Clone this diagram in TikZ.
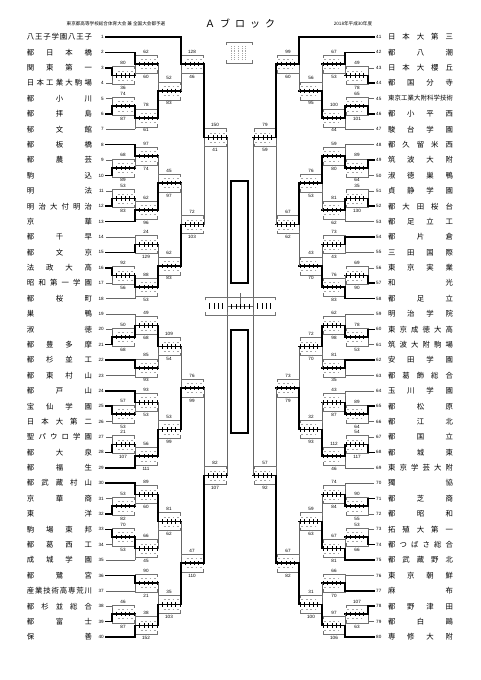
\documentclass[tikz,border=0pt]{standalone}
\usepackage{fontspec}
\setmainfont{Liberation Sans}
\newfontfamily\jp{Noto Sans CJK JP}
\makeatletter
\newcommand\tY[1]{\fpeval{37+(\ifnum#1>40 #1-41\else #1-1\fi)*600/39}}
\newcommand\my[1]{\csname my@#1\endcsname}
\newcommand\spr[1]{\spr@a#1\spr@end}
\def\spr@a#1#2\spr@end{#1\if\relax\detokenize{#2}\relax\else\hfill\spr@a#2\spr@end\fi}
\makeatother
\tikzset{
  ww/.style={line width=1.6pt,black,line cap=rect},
  ll/.style={line width=0.5pt,black!60},
  bx/.style={line width=0.4pt,black!55},
  tk/.style={line width=0.5pt,black},
  qs/.style={line width=0.6pt,black!35},
  nm/.style={font=\jp\fontsize{7.4}{8}\selectfont,inner sep=0pt},
  num/.style={font=\fontsize{4.6}{5}\selectfont,inner sep=0pt},
  sc/.style={font=\fontsize{4.6}{5}\selectfont,inner sep=0pt},
}
% match: [ym override]{id}{col}{dir}{ya}{yb}{winner u/l}{top}{bottom}
\newcommand\mt[9][]{%
 \edef\ya{\fpeval{#5}}\edef\yb{\fpeval{#6}}%
 \if\relax\detokenize{#1}\relax\edef\ym{\fpeval{(\ya+\yb)/2}}\else\edef\ym{#1}\fi
 \expandafter\xdef\csname my@#2\endcsname{\ym}%
 \edef\xa{\fpeval{#3}}\edef\xc{\fpeval{#3+(#4)*23}}\edef\xm{\fpeval{#3+(#4)*11}}%
 \edef\xd{#4}%
 \edef\xl{\fpeval{min(#3,#3+(#4)*22)}}\edef\xr{\fpeval{max(#3,#3+(#4)*22)}}%
 \if#7u\edef\yw{\ya}\edef\yo{\yb}\else\edef\yw{\yb}\edef\yo{\ya}\fi
 \draw[ll] (\xa,\ym) -- (\xa,\yo);
 \draw[bx] (\xl,\ym-6) -- (\xl,\ym-9) -- (\xr,\ym-9) -- (\xr,\ym-6)
           (\xl,\ym+6) -- (\xl,\ym+9) -- (\xr,\ym+9) -- (\xr,\ym+6);
 \foreach \i in {1,...,4}{\draw[qs] (\xa+\xd*4.4*\i+\xd*1.3,\ym-4.6) -- ++(\xd*1.8,0) (\xa+\xd*4.4*\i+\xd*1.3,\ym+4.6) -- ++(\xd*1.8,0);}
 \draw[ww] (\xa,\yw) -- (\xa,\ym) -- (\xc,\ym);
 \foreach \i in {1,...,5}{\draw[tk] (\xa+\xd*4.4*\i,\ym-2.2) -- ++(0,4.4);}
 \node[sc,name=#2t] at (\xm,\ym-12.5) {#8};
 \node[sc,name=#2b] at (\xm,\ym+12.5) {#9};
}
% team: [opts]{n}{name}{first column}{style}
\newcommand\tl[5][]{%
 \edef\yt{\tY{#2}}%
 \ifnum#2>40
   \node[nm,name=n#2,#1] at (420.5,\yt) {\makebox[65pt][s]{\spr{#3}}};
   \node[num,anchor=west,name=k#2] at (376,\yt) {#2};
   \draw[#5] (374,\yt) -- (#4,\yt);
 \else
   \node[nm,name=n#2,#1] at (59.5,\yt) {\makebox[65pt][s]{\spr{#3}}};
   \node[num,anchor=east,name=k#2] at (104,\yt) {#2};
   \draw[#5] (106,\yt) -- (#4,\yt);
 \fi}
\begin{document}
\begin{tikzpicture}[x=1pt,y=-1pt]
\fill[white] (0,0) rectangle (481,680);
\useasboundingbox (0,0) rectangle (481,680);
% header
\node[name=hl,inner sep=0pt,font=\jp\fontsize{4.6}{5}\selectfont] at (116,24) {東京都高等学校総合体育大会\ 兼\ 全国大会都予選};
\node[name=ttl,inner sep=0pt,font=\jp\fontsize{10}{11}\selectfont] at (240,24) {\makebox[70pt][s]{\spr{Ａブロック}}};
\node[name=hr,inner sep=0pt,font=\jp\fontsize{4.6}{5}\selectfont] at (353,24) {2018年平成30年度};
% left teams
\tl{1}{八王子学園八王子}{181}{ww}
\tl{2}{都日本橋}{135}{ww}
\tl{3}{関東第一}{112}{ww}
\tl{4}{日本工業大駒場}{112}{ll}
\tl{5}{都小川}{112}{ll}
\tl{6}{都拝島}{112}{ww}
\tl{7}{郁文館}{135}{ll}
\tl{8}{都板橋}{135}{ww}
\tl{9}{都農芸}{112}{ll}
\tl{10}{駒込}{112}{ww}
\tl{11}{明法}{112}{ll}
\tl{12}{明治大付明治}{112}{ww}
\tl{13}{京華}{135}{ww}
\tl{14}{都千早}{135}{ll}
\tl{15}{都文京}{135}{ww}
\tl{16}{法政大高}{112}{ww}
\tl{17}{昭和第一学園}{112}{ll}
\tl{18}{都桜町}{135}{ll}
\tl{19}{巣鴨}{135}{ll}
\tl{20}{淑徳}{112}{ll}
\tl{21}{都豊多摩}{112}{ww}
\tl{22}{都杉並工}{135}{ww}
\tl{23}{都東村山}{135}{ll}
\tl{24}{都戸山}{135}{ww}
\tl{25}{宝仙学園}{112}{ww}
\tl{26}{日本大第二}{112}{ll}
\tl{27}{聖パウロ学園}{112}{ll}
\tl{28}{都大泉}{112}{ww}
\tl{29}{都福生}{135}{ww}
\tl{30}{都武蔵村山}{135}{ww}
\tl{31}{京華商}{112}{ll}
\tl{32}{東洋}{112}{ww}
\tl{33}{駒場東邦}{112}{ww}
\tl{34}{都葛西工}{112}{ll}
\tl{35}{成城学園}{135}{ll}
\tl{36}{都鷺宮}{135}{ww}
\tl{37}{産業技術高専荒川}{135}{ll}
\tl{38}{都杉並総合}{112}{ll}
\tl{39}{都富士}{112}{ww}
\tl{40}{保善}{135}{ww}
% right teams
\tl{41}{日本大第三}{299}{ww}
\tl{42}{都八潮}{345}{ww}
\tl{43}{日本大櫻丘}{368}{ll}
\tl{44}{都国分寺}{368}{ww}
\tl[font=\jp\fontsize{6.4}{7}\selectfont]{45}{東京工業大附科学技術}{368}{ll}
\tl{46}{都小平西}{368}{ww}
\tl{47}{駿台学園}{345}{ll}
\tl{48}{都久留米西}{345}{ll}
\tl{49}{筑波大附}{368}{ww}
\tl{50}{淑徳巣鴨}{368}{ll}
\tl{51}{貞静学園}{368}{ll}
\tl{52}{都大田桜台}{368}{ww}
\tl{53}{都足立工}{345}{ll}
\tl{54}{都片倉}{345}{ww}
\tl{55}{三田国際}{345}{ll}
\tl{56}{東京実業}{368}{ll}
\tl{57}{和光}{368}{ww}
\tl{58}{都足立}{345}{ww}
\tl{59}{明治学院}{345}{ll}
\tl{60}{東京成徳大高}{368}{ww}
\tl{61}{筑波大附駒場}{368}{ll}
\tl{62}{安田学園}{345}{ww}
\tl{63}{都葛飾総合}{345}{ll}
\tl{64}{玉川学園}{345}{ll}
\tl{65}{都松原}{368}{ww}
\tl{66}{都江北}{368}{ll}
\tl{67}{都国立}{368}{ll}
\tl{68}{都城東}{368}{ww}
\tl{69}{東京学芸大附}{345}{ll}
\tl{70}{獨協}{345}{ll}
\tl{71}{都芝商}{368}{ww}
\tl{72}{都昭和}{368}{ll}
\tl{73}{拓殖大第一}{368}{ll}
\tl{74}{都つばさ総合}{368}{ww}
\tl{75}{都武蔵野北}{345}{ww}
\tl{76}{東京朝鮮}{345}{ll}
\tl{77}{麻布}{345}{ww}
\tl{78}{都野津田}{368}{ww}
\tl{79}{都白鷗}{368}{ll}
\tl{80}{専修大附}{345}{ww}
% left matches
\mt{a1}{112}{1}{\tY{3}}{\tY{4}}{u}{80}{36}
\mt{a2}{135}{1}{\tY{2}}{\my{a1}}{u}{62}{60}
\mt{a3}{112}{1}{\tY{5}}{\tY{6}}{l}{74}{87}
\mt{a4}{135}{1}{\my{a3}}{\tY{7}}{u}{78}{61}
\mt{a5}{158}{1}{\my{a2}}{\my{a4}}{l}{52}{83}
\mt{a6}{181}{1}{\tY{1}}{\my{a5}}{u}{128}{46}
\mt{b1}{112}{1}{\tY{9}}{\tY{10}}{l}{68}{89}
\mt{b2}{135}{1}{\tY{8}}{\my{b1}}{u}{97}{74}
\mt{b3}{112}{1}{\tY{11}}{\tY{12}}{l}{53}{83}
\mt{b4}{135}{1}{\my{b3}}{\tY{13}}{l}{62}{96}
\mt{b5}{158}{1}{\my{b2}}{\my{b4}}{l}{45}{97}
\mt{b6}{135}{1}{\tY{14}}{\tY{15}}{l}{24}{129}
\mt{b7}{112}{1}{\tY{16}}{\tY{17}}{u}{92}{56}
\mt{b8}{135}{1}{\my{b7}}{\tY{18}}{u}{88}{53}
\mt{b9}{158}{1}{\my{b6}}{\my{b8}}{l}{62}{83}
\mt{b10}{181}{1}{\my{b5}}{\my{b9}}{l}{72}{103}
\mt[137.5]{a7}{204}{1}{\my{a6}}{\my{b10}}{u}{150}{41}
\mt{c1}{112}{1}{\tY{20}}{\tY{21}}{l}{50}{68}
\mt{c2}{135}{1}{\tY{19}}{\my{c1}}{l}{49}{68}
\mt{c3}{135}{1}{\tY{22}}{\tY{23}}{u}{85}{93}
\mt{c4}{158}{1}{\my{c2}}{\my{c3}}{u}{109}{54}
\mt{c5}{112}{1}{\tY{25}}{\tY{26}}{u}{57}{53}
\mt{c6}{135}{1}{\tY{24}}{\my{c5}}{u}{93}{53}
\mt{c7}{112}{1}{\tY{27}}{\tY{28}}{l}{21}{107}
\mt{c8}{135}{1}{\my{c7}}{\tY{29}}{l}{56}{111}
\mt{c9}{158}{1}{\my{c6}}{\my{c8}}{l}{53}{99}
\mt{c10}{181}{1}{\my{c4}}{\my{c9}}{l}{76}{99}
\mt{d1}{112}{1}{\tY{31}}{\tY{32}}{l}{53}{82}
\mt{d2}{135}{1}{\tY{30}}{\my{d1}}{u}{89}{60}
\mt{d3}{112}{1}{\tY{33}}{\tY{34}}{u}{70}{53}
\mt{d4}{135}{1}{\my{d3}}{\tY{35}}{u}{66}{45}
\mt{d5}{158}{1}{\my{d2}}{\my{d4}}{u}{81}{62}
\mt{d6}{135}{1}{\tY{36}}{\tY{37}}{u}{90}{21}
\mt{d7}{112}{1}{\tY{38}}{\tY{39}}{l}{46}{87}
\mt{d8}{135}{1}{\my{d7}}{\tY{40}}{l}{38}{152}
\mt{d9}{158}{1}{\my{d6}}{\my{d8}}{l}{35}{103}
\mt{d10}{181}{1}{\my{d5}}{\my{d9}}{l}{47}{110}
\mt{c11}{204}{1}{\my{c10}}{\my{d10}}{l}{82}{107}
% right matches
\mt{e1}{368}{-1}{\tY{43}}{\tY{44}}{l}{49}{78}
\mt{e2}{345}{-1}{\tY{42}}{\my{e1}}{u}{67}{53}
\mt{e3}{368}{-1}{\tY{45}}{\tY{46}}{l}{65}{101}
\mt{e4}{345}{-1}{\my{e3}}{\tY{47}}{u}{100}{44}
\mt{e5}{322}{-1}{\my{e2}}{\my{e4}}{l}{56}{95}
\mt{e6}{299}{-1}{\tY{41}}{\my{e5}}{u}{99}{60}
\mt{f1}{368}{-1}{\tY{49}}{\tY{50}}{u}{89}{64}
\mt{f2}{345}{-1}{\tY{48}}{\my{f1}}{l}{59}{80}
\mt{f3}{368}{-1}{\tY{51}}{\tY{52}}{l}{35}{130}
\mt{f4}{345}{-1}{\my{f3}}{\tY{53}}{u}{81}{62}
\mt{f5}{322}{-1}{\my{f2}}{\my{f4}}{u}{76}{53}
\mt{f6}{345}{-1}{\tY{54}}{\tY{55}}{u}{73}{43}
\mt{f7}{368}{-1}{\tY{56}}{\tY{57}}{l}{69}{90}
\mt{f8}{345}{-1}{\my{f7}}{\tY{58}}{l}{76}{83}
\mt{f9}{322}{-1}{\my{f6}}{\my{f8}}{l}{43}{70}
\mt{f10}{299}{-1}{\my{f5}}{\my{f9}}{u}{67}{62}
\mt[137.5]{e7}{276}{-1}{\my{e6}}{\my{f10}}{u}{79}{59}
\mt{g1}{368}{-1}{\tY{60}}{\tY{61}}{u}{78}{53}
\mt{g2}{345}{-1}{\tY{59}}{\my{g1}}{l}{62}{98}
\mt{g3}{345}{-1}{\tY{62}}{\tY{63}}{u}{81}{35}
\mt{g4}{322}{-1}{\my{g2}}{\my{g3}}{u}{72}{70}
\mt{g5}{368}{-1}{\tY{65}}{\tY{66}}{u}{89}{64}
\mt{g6}{345}{-1}{\tY{64}}{\my{g5}}{l}{43}{87}
\mt{g7}{368}{-1}{\tY{67}}{\tY{68}}{l}{54}{117}
\mt{g8}{345}{-1}{\my{g7}}{\tY{69}}{u}{112}{46}
\mt{g9}{322}{-1}{\my{g6}}{\my{g8}}{l}{32}{93}
\mt{g10}{299}{-1}{\my{g4}}{\my{g9}}{l}{73}{79}
\mt{h1}{368}{-1}{\tY{71}}{\tY{72}}{u}{90}{55}
\mt{h2}{345}{-1}{\tY{70}}{\my{h1}}{l}{74}{84}
\mt{h3}{368}{-1}{\tY{73}}{\tY{74}}{l}{53}{66}
\mt{h4}{345}{-1}{\my{h3}}{\tY{75}}{l}{67}{81}
\mt{h5}{322}{-1}{\my{h2}}{\my{h4}}{l}{59}{63}
\mt{h6}{345}{-1}{\tY{76}}{\tY{77}}{l}{66}{70}
\mt{h7}{368}{-1}{\tY{78}}{\tY{79}}{u}{107}{63}
\mt{h8}{345}{-1}{\my{h7}}{\tY{80}}{l}{97}{106}
\mt{h9}{322}{-1}{\my{h6}}{\my{h8}}{l}{31}{100}
\mt{h10}{299}{-1}{\my{h5}}{\my{h9}}{l}{67}{82}
\mt{g11}{276}{-1}{\my{g10}}{\my{h10}}{l}{57}{92}
% semifinals and final
\edef\ys{\fpeval{(\my{a7}+\my{c11})/2}}
\draw[ll] (227,\my{a7}) -- (227,\my{c11});
\draw[ll] (253,\my{e7}) -- (253,\my{g11});
\draw[bx] (205,\ys-6) -- (205,\ys-9) -- (227,\ys-9) -- (227,\ys-6)
          (205,\ys+6) -- (205,\ys+9) -- (227,\ys+9) -- (227,\ys+6)
          (275,\ys-6) -- (275,\ys-9) -- (253,\ys-9) -- (253,\ys-6)
          (275,\ys+6) -- (275,\ys+9) -- (253,\ys+9) -- (253,\ys+6)
          (227,\ys-9) -- (253,\ys-9) (227,\ys+9) -- (253,\ys+9);
\foreach \i in {1,...,4}{
  \draw[tk] (227-4.4*\i,\ys-3) -- ++(0,6);
  \draw[tk] (253+4.4*\i,\ys-3) -- ++(0,6);
}
\draw[ll] (227,\ys) -- (253,\ys);
\draw[ll] (240,\ys-13) -- (240,\ys);
\foreach \i in {1,...,5}{\draw[tk] (227+4.4*\i,\ys-2.2) -- ++(0,4.4);}
% legend box
\draw[bx] (226,45) -- (226,42) -- (252,42) -- (252,45)
          (226,60) -- (226,63) -- (252,63) -- (252,60);
\foreach \i in {0,...,4}{\draw[qs,dash pattern=on 1pt off 0.8pt] (231+3.6*\i,46) -- ++(0,13);}
% name boxes
\draw[line width=1.3pt] (231,181) rectangle (248,283);
\draw[line width=1.3pt] (231,330) rectangle (248,433);
\end{tikzpicture}
\end{document}
